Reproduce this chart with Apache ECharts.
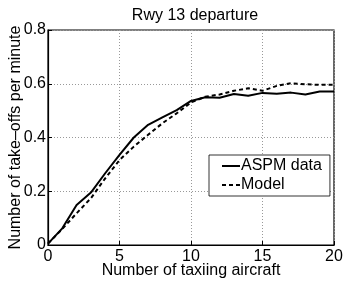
<!DOCTYPE html>
<html><head><meta charset="utf-8">
<script src="https://cdn.jsdelivr.net/npm/echarts@6/dist/echarts.min.js"></script>
<style>html,body{margin:0;padding:0;background:#fff}#c{width:346px;height:281px}</style>
</head><body><div id="c"></div>
<script>
var xValues = [0,1,2,3,4,5,6,7,8,9,10,11,12,13,14,15,16,17,18,19,20];
var aspmData = [0.005,0.062,0.149,0.195,0.267,0.335,0.40,0.447,0.475,0.502,0.536,0.55,0.548,0.562,0.555,0.566,0.563,0.567,0.56,0.571,0.571];
var modelData = [0.005,0.06,0.118,0.174,0.248,0.316,0.366,0.41,0.453,0.49,0.53,0.552,0.56,0.574,0.583,0.574,0.592,0.602,0.598,0.596,0.596];
var seriesNames = ['ASPM data','Model'];
var titleText = 'Rwy 13 departure';
var xName = 'Number of taxiing aircraft';
var yName = 'Number of take\u2013offs per minute';

function pairs(xs, ys){ return xs.map(function(x,i){return [x, ys[i]];}); }
var font = 'Liberation Sans, Arial, Helvetica, sans-serif';
var chart = echarts.init(document.getElementById('c'), null, {renderer:'canvas'});
var gridLine = {show:true, lineStyle:{color:'#999', type:[1,2], width:1}};
chart.setOption({
  animation:false,
  backgroundColor:'#fff',
  title:{text:titleText, left:190, top:3, textAlign:'center', textStyle:{fontFamily:font, fontSize:16, fontWeight:'normal', color:'#000'}},
  grid:{left:48, right:12, top:30, bottom:36, containLabel:false, outerBoundsMode:'none', show:true, borderColor:'#000', borderWidth:1.2, backgroundColor:'transparent'},
  legend:{
    data:[{name:seriesNames[0]},{name:seriesNames[1]}],
    orient:'vertical', left:209, top:155,
    backgroundColor:'#fff', borderColor:'#000', borderWidth:0.8, borderRadius:0,
    padding:[3,8,3,12], itemGap:3, itemWidth:18, itemHeight:15,
    itemStyle:{opacity:0},
    textStyle:{fontFamily:font, fontSize:16, color:'#000', padding:[0,0,0,-4]}
  },
  xAxis:{type:'value', min:0, max:20, interval:5,
    name:xName, nameLocation:'middle', nameGap:18, nameMoveOverlap:false,
    nameTextStyle:{fontFamily:font, fontSize:16, color:'#000'},
    axisLine:{show:true, lineStyle:{color:'#000', width:1.2}},
    axisTick:{show:true, inside:true, length:4, lineStyle:{color:'#000'}},
    axisLabel:{fontFamily:font, fontSize:16, color:'#000', margin:4},
    splitLine:gridLine},
  yAxis:{type:'value', min:0, max:0.8, interval:0.2,
    name:yName, nameLocation:'middle', nameGap:24, nameMoveOverlap:false,
    nameTextStyle:{fontFamily:font, fontSize:16, color:'#000'},
    axisLine:{show:true, lineStyle:{color:'#000', width:1.2}},
    axisTick:{show:true, inside:true, length:4, lineStyle:{color:'#000'}},
    axisLabel:{fontFamily:font, fontSize:16, color:'#000', margin:2,
      formatter:function(v){return v===0?'0':v.toFixed(1);}},
    splitLine:gridLine},
  series:[
    {name:seriesNames[0], type:'line', data:pairs(xValues, aspmData), symbol:'none',
      lineStyle:{color:'#000', width:2}, itemStyle:{color:'#000'}},
    {name:seriesNames[1], type:'line', data:pairs(xValues, modelData), symbol:'none',
      lineStyle:{color:'#000', width:2, type:[4,3]}, itemStyle:{color:'#000'}}
  ]
});
</script></body></html>
